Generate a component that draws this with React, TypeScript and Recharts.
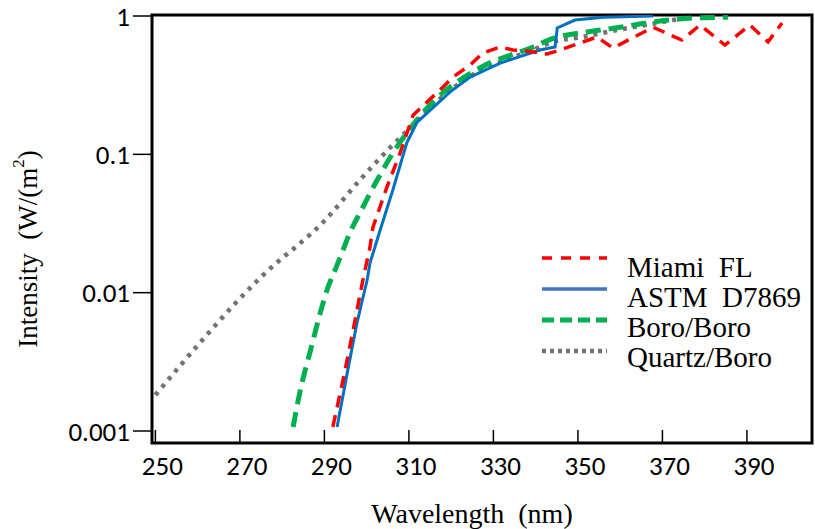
import { LineChart, Line, XAxis, YAxis, ReferenceArea, Label } from 'recharts'

const TICK_FONT = 'Carlito'
const SERIF = 'Liberation Serif'

const xTicks = [250, 270, 290, 310, 330, 350, 370, 390]
const yTicks = [0.001, 0.01, 0.1, 1]

// Miami FL
const miamiNm = [292.0, 294.4, 296.8, 299.1, 300.8, 301.5, 304.8, 307.9, 311.0, 314.3, 318.1, 320.4, 324.5, 327.5, 331.6, 334.6, 337.9, 342.7, 345.8, 354.5, 358.3, 367.8, 374.6, 378.9, 384.8, 390.7, 395.0, 398.3]
const miamiVal = [0.00107, 0.00233, 0.00537, 0.0123, 0.0214, 0.0298, 0.058, 0.102, 0.192, 0.239, 0.307, 0.362, 0.442, 0.54, 0.597, 0.568, 0.558, 0.531, 0.568, 0.705, 0.587, 0.83, 0.67, 0.86, 0.617, 0.86, 0.65, 0.89]

// ASTM D7869
const astmNm = [293.0, 295.4, 297.7, 300.1, 300.8, 303.2, 306.2, 309.5, 311.9, 319.7, 324.5, 331.6, 341.0, 344.6, 345.1, 349.3, 356.0, 367.8]
const astmVal = [0.00107, 0.00262, 0.00603, 0.0123, 0.0164, 0.0284, 0.0552, 0.121, 0.17, 0.282, 0.362, 0.457, 0.568, 0.597, 0.82, 0.935, 0.98, 1.0]

// Boro/Boro
const boroNm = [282.6, 284.2, 286.6, 289.0, 290.6, 293.0, 294.4, 296.1, 298.4, 302.5, 306.2, 309.5, 315.7, 326.8, 339.4, 344.1, 352.2, 360.0, 367.8, 377.3, 385.5]
const boroVal = [0.00107, 0.00191, 0.00372, 0.00711, 0.0104, 0.0158, 0.0203, 0.0274, 0.0377, 0.0652, 0.102, 0.143, 0.239, 0.421, 0.597, 0.69, 0.766, 0.83, 0.905, 0.967, 0.98]

// Quartz/Boro
const quartzNm = [250.0, 274.8, 290.6, 298.4, 306.2, 311.0, 315.7, 323.8, 331.6, 339.4, 344.1, 350.5, 360.0, 367.8, 376.1]
const quartzVal = [0.00182, 0.0128, 0.0346, 0.0652, 0.117, 0.163, 0.227, 0.356, 0.465, 0.568, 0.65, 0.7, 0.8, 0.88, 0.98]

const toRows = (nm: number[], val: number[]) => nm.map((n, i) => ({ nm: n, v: val[i] }))

const miami = toRows(miamiNm, miamiVal)
const astm = toRows(astmNm, astmVal)
const boro = toRows(boroNm, boroVal)
const quartz = toRows(quartzNm, quartzVal)

const X_DOMAIN: [number, number] = [249.2, 405.4]
const Y_DOMAIN: [number, number] = [0.000819, 1.017]

const tickStyle = { fontFamily: TICK_FONT, fontSize: 27 }

const XTick = (props: any) => {
  const { x, y, payload } = props
  return (
    <g>
      <line x1={x} y1={y - 1} x2={x} y2={y - 13} stroke="#000" strokeWidth={1.5} />
      <text x={x + 7} y={y + 22} textAnchor="middle" dominantBaseline="central" style={tickStyle} fill="#000">
        {payload.value}
      </text>
    </g>
  )
}

const YTick = (props: any) => {
  const { x, y, payload } = props
  return (
    <text x={x} y={y} textAnchor="end" dominantBaseline="central" style={tickStyle} fill="#000">
      {String(payload.value)}
    </text>
  )
}

const legendItems = [
  { name: 'Miami FL', color: '#FF0000', width: 3.5, dash: '10 9' },
  { name: 'ASTM D7869', color: '#4472C4', width: 3.5, dash: undefined },
  { name: 'Boro/Boro', color: '#00B050', width: 5, dash: '12 6' },
  { name: 'Quartz/Boro', color: '#767171', width: 4.5, dash: '4 4' },
]

export default function App() {
  return (
    <div style={{ position: 'absolute', left: 0, top: 0, width: 815, height: 529, background: '#fff' }}>
      <LineChart width={815} height={529} margin={{ top: 15, right: 3, bottom: 46, left: 12 }}>
        <XAxis
          type="number"
          dataKey="nm"
          domain={X_DOMAIN}
          ticks={xTicks}
          allowDataOverflow
          axisLine={false}
          tickLine={false}
          tickSize={0}
          tickMargin={0}
          height={40}
          tick={<XTick />}
          interval={0}
        >
          <Label
            content={() => (
              <text x={472} y={513} textAnchor="middle" dominantBaseline="central" style={{ fontFamily: SERIF, fontSize: 28 }} fill="#000">
                Wavelength{'\u00a0 '}(nm)
              </text>
            )}
          />
        </XAxis>
        <YAxis
          type="number"
          scale="log"
          domain={Y_DOMAIN}
          ticks={yTicks}
          allowDataOverflow
          width={140}
          axisLine={false}
          tickSize={19}
          tickMargin={3}
          tickLine={{ stroke: '#000', strokeWidth: 1.5 }}
          tick={<YTick />}
          interval={0}
        >
          <Label
            content={() => (
              <text transform="translate(28,249) rotate(-90)" textAnchor="middle" dominantBaseline="central" style={{ fontFamily: SERIF, fontSize: 27 }} fill="#000">
                Intensity{'\u00a0 '}(W/(m<tspan dy={-10} style={{ fontSize: 17 }}>2</tspan><tspan dy={10}>)</tspan>
              </text>
            )}
          />
        </YAxis>
        <ReferenceArea x1={X_DOMAIN[0]} x2={X_DOMAIN[1]} y1={Y_DOMAIN[0]} y2={Y_DOMAIN[1]} fill="none" stroke="#000" strokeWidth={3} />
        <Line data={quartz} dataKey="v" type="monotone" stroke="#767171" strokeWidth={4.5} strokeDasharray="4 6" dot={false} isAnimationActive={false} />
        <Line data={boro} dataKey="v" type="monotone" stroke="#00B050" strokeWidth={5} strokeDasharray="15 8" dot={false} isAnimationActive={false} />
        <Line data={astm} dataKey="v" type="linear" stroke="#0070C0" strokeWidth={3} dot={false} isAnimationActive={false} />
        <Line data={miami} dataKey="v" type="linear" stroke="#FF0000" strokeWidth={3.5} strokeDasharray="12 8" dot={false} isAnimationActive={false} />
      </LineChart>
      <svg width={275} height={140} style={{ position: 'absolute', left: 540, top: 240 }}>
        {legendItems.map((it, i) => (
          <g key={it.name}>
            <line x1={2} x2={67} y1={18 + i * 31} y2={18 + i * 31} stroke={it.color} strokeWidth={it.width} strokeDasharray={it.dash} />
            <text x={87} y={37 + i * 30} style={{ fontFamily: SERIF, fontSize: 29 }} fill="#000">
              {it.name.replace(' ', '\u00a0 ')}
            </text>
          </g>
        ))}
      </svg>
    </div>
  )
}
